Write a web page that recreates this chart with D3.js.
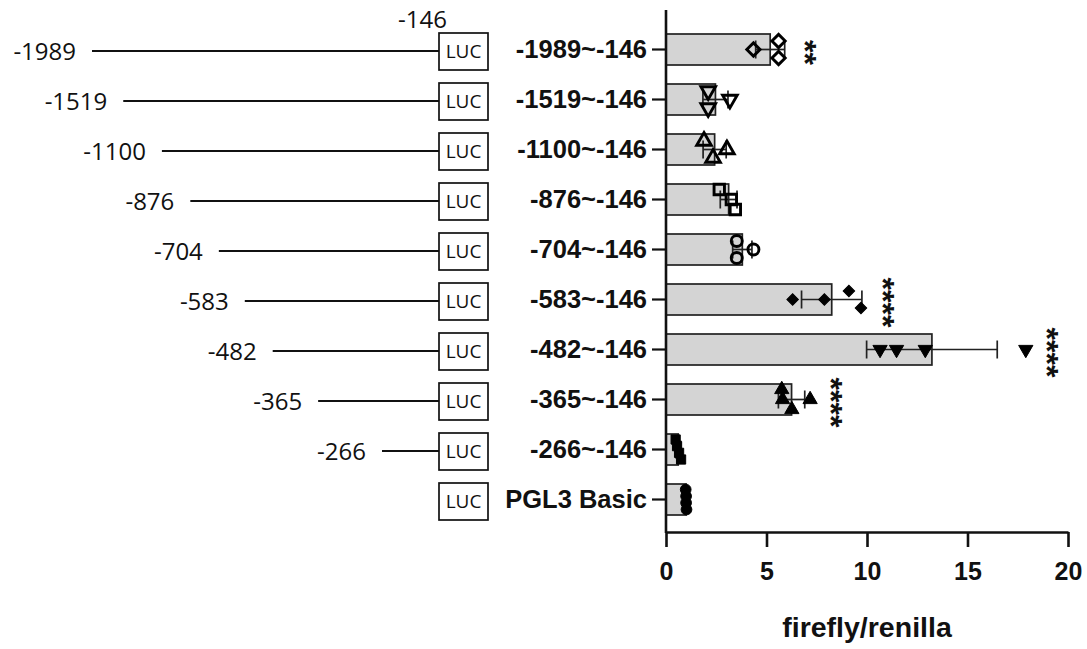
<!DOCTYPE html>
<html>
<head>
<meta charset="utf-8">
<script src="https://cdn.jsdelivr.net/npm/d3@7"></script>
<style>
  body { margin: 0; background: #fff; }
  svg { display: block; }
</style>
</head>
<body>
<div class="chart"></div>
<script>
// constructs, in plot order (top to bottom)
const categories = ["-1989~-146", "-1519~-146", "-1100~-146", "-876~-146", "-704~-146",
                    "-583~-146", "-482~-146", "-365~-146", "-266~-146", "PGL3 Basic"]
const startPositions = [-1989, -1519, -1100, -876, -704, -583, -482, -365, -266, null]
const endPosition = -146

// firefly/renilla replicates
const replicates = [
    [4.35, 5.6, 5.6],
    [2.1, 2.1, 3.18],
    [1.89, 2.34, 3.03],
    [2.65, 3.25, 3.45],
    [3.52, 3.52, 4.35],
    [6.3, 7.88, 9.1, 9.7],
    [10.65, 11.47, 12.9, 17.9],
    [5.76, 5.8, 6.26, 7.17],
    [0.48, 0.55, 0.65, 0.75],
    [0.98, 1.0, 1.0, 1.02]
]
const significance = ["**", "", "", "", "", "****", "****", "****", "", ""]
const xTicks = [0, 5, 10, 15, 20]

const width = 1087, height = 649
const boldFont = "'Liberation Sans', Arial, sans-serif"
const thinFont = "'Open Sans', 'Noto Sans', sans-serif"

// graphpad style markers, one per row
const markers = [
    {type: d3.symbolSquare, size: 88, rot: 45, fill: "none"},
    {type: d3.symbolTriangle, size: 92, rot: 180, fill: "none"},
    {type: d3.symbolTriangle, size: 92, rot: 0, fill: "none"},
    {type: d3.symbolSquare, size: 108, rot: 0, fill: "none"},
    {type: d3.symbolCircle, size: 95, rot: 0, fill: "none"},
    {type: d3.symbolSquare, size: 66, rot: 45, fill: "#000"},
    {type: d3.symbolTriangle, size: 88, rot: 180, fill: "#000"},
    {type: d3.symbolTriangle, size: 88, rot: 0, fill: "#000"},
    {type: d3.symbolSquare, size: 85, rot: 0, fill: "#000"},
    {type: d3.symbolCircle, size: 90, rot: 0, fill: "#000"}
]

var rows = categories.map((c, i) => {
    var vals = replicates[i]
    return {
        cat: c,
        start: startPositions[i],
        vals: vals,
        mean: d3.mean(vals),
        sd: d3.deviation(vals),
        sig: significance[i],
        marker: markers[i]
    }
})

var svg = d3.select(".chart").append("svg")
    .attr("width", width)
    .attr("height", height)

var x = d3.scaleLinear().domain([0, 20]).range([666, 1068])
var y = d3.scaleBand().domain(categories).range([24.5, 524.5])
var bw = y.bandwidth()
var cy = d => y(d) + bw / 2
var axisY = 532

// ---- promoter diagram on the left ----
var lineScale = d3.scaleLog()
    .domain(d3.extent(startPositions.filter(d => d != null), d => endPosition - d).reverse())
    .range([92, 382])
var boxX = 439, boxW = 49, boxH = 37

var diagram = svg.append("g")

diagram.selectAll(".frag")
    .data(rows.filter(d => d.start != null))
    .enter()
    .append("line")
    .attr("x1", d => lineScale(endPosition - d.start))
    .attr("x2", boxX)
    .attr("y1", d => cy(d.cat) + 1.5)
    .attr("y2", d => cy(d.cat) + 1.5)
    .attr("stroke", "#111")
    .attr("stroke-width", 2.2)

diagram.selectAll(".fraglabel")
    .data(rows.filter(d => d.start != null))
    .enter()
    .append("text")
    .attr("x", d => lineScale(endPosition - d.start) - 16)
    .attr("y", d => cy(d.cat) + 1.5)
    .attr("dy", "0.36em")
    .attr("text-anchor", "end")
    .style("font-family", thinFont)
    .style("font-size", "24px")
    .attr("fill", "#111")
    .text(d => d.start)

diagram.selectAll(".luc")
    .data(rows)
    .enter()
    .append("rect")
    .attr("x", boxX)
    .attr("y", d => cy(d.cat) + 2 - boxH / 2)
    .attr("width", boxW)
    .attr("height", boxH)
    .attr("fill", "#fff")
    .attr("stroke", "#111")
    .attr("stroke-width", 1.7)

diagram.selectAll(".luctext")
    .data(rows)
    .enter()
    .append("text")
    .attr("x", boxX + boxW / 2)
    .attr("y", d => cy(d.cat) + 2)
    .attr("dy", "0.36em")
    .attr("text-anchor", "middle")
    .style("font-family", thinFont)
    .style("font-size", "19px")
    .attr("fill", "#111")
    .text("LUC")

diagram.append("text")
    .attr("x", boxX + 8)
    .attr("y", cy(categories[0]) - 22)
    .attr("text-anchor", "end")
    .style("font-family", thinFont)
    .style("font-size", "24px")
    .attr("fill", "#111")
    .text(endPosition)

// ---- bars ----
svg.append("g").selectAll("rect")
    .data(rows)
    .enter()
    .append("rect")
    .attr("x", x(0))
    .attr("y", d => cy(d.cat) - bw * 0.31)
    .attr("width", d => x(d.mean) - x(0))
    .attr("height", bw * 0.62)
    .attr("fill", "#d4d4d4")
    .attr("stroke", "#222")
    .attr("stroke-width", 1.7)

// error bars (SD)
var err = svg.append("g").attr("stroke", "#222").attr("stroke-width", 1.7)
err.selectAll(".whisker")
    .data(rows)
    .enter()
    .append("line")
    .attr("x1", d => x(d.mean - d.sd))
    .attr("x2", d => x(d.mean + d.sd))
    .attr("y1", d => cy(d.cat))
    .attr("y2", d => cy(d.cat))
err.selectAll(".capL")
    .data(rows)
    .enter()
    .append("line")
    .attr("x1", d => x(d.mean - d.sd))
    .attr("x2", d => x(d.mean - d.sd))
    .attr("y1", d => cy(d.cat) - 9)
    .attr("y2", d => cy(d.cat) + 9)
err.selectAll(".capR")
    .data(rows)
    .enter()
    .append("line")
    .attr("x1", d => x(d.mean + d.sd))
    .attr("x2", d => x(d.mean + d.sd))
    .attr("y1", d => cy(d.cat) - 9)
    .attr("y2", d => cy(d.cat) + 9)

// points, overlapping ones spread vertically like prism does
function spread(row) {
    var pts = row.vals.map(v => ({v: v, px: x(v), row: row})).sort((a, b) => a.px - b.px)
    var clusters = []
    pts.forEach(p => {
        var last = clusters[clusters.length - 1]
        if (last && p.px - last[last.length - 1].px < 13) last.push(p)
        else clusters.push([p])
    })
    clusters.forEach(cl => {
        var n = cl.length
        var step = n > 1 ? Math.min(17, 20 / (n - 1)) : 0
        cl.forEach((p, i) => { p.py = cy(row.cat) + (i - (n - 1) / 2) * step })
    })
    return pts
}
var allPts = rows.flatMap(spread)

svg.append("g").selectAll("path")
    .data(allPts)
    .enter()
    .append("path")
    .attr("d", d => d3.symbol().type(d.row.marker.type).size(d.row.marker.size)())
    .attr("transform", d => `translate(${d.px},${d.py}) rotate(${d.row.marker.rot})`)
    .attr("fill", d => d.row.marker.fill)
    .attr("stroke", "#000")
    .attr("stroke-width", d => d.row.marker.fill == "none" ? 2.9 : 1)

// significance stars, written sideways
var starSize = 32
svg.append("g").selectAll("text")
    .data(rows.filter(d => d.sig))
    .enter()
    .append("text")
    .attr("transform", d => {
        var right = Math.max(d3.max(d.vals), d.mean + d.sd)
        return `translate(${x(right) + 28 - starSize * 0.57},${cy(d.cat) + 3}) rotate(90)`
    })
    .attr("text-anchor", "middle")
    .style("font-family", boldFont)
    .style("font-size", starSize + "px")
    .style("font-weight", "bold")
    .attr("fill", "#111")
    .text(d => d.sig)

// ---- axes ----
var xAxis = svg.append("g")
    .attr("transform", `translate(0,${axisY})`)
    .call(d3.axisBottom(x).tickValues(xTicks).tickSize(15).tickSizeOuter(0).tickPadding(15))
xAxis.select(".domain").attr("stroke", "#111").attr("stroke-width", 2.6)
xAxis.selectAll(".tick line").attr("stroke", "#111").attr("stroke-width", 2.6)
xAxis.selectAll(".tick text")
    .style("font-family", boldFont)
    .style("font-size", "25px")
    .style("font-weight", "bold")
    .attr("fill", "#111")

var yAxis = svg.append("g")
    .attr("transform", `translate(${x(0)},0)`)
    .call(d3.axisLeft(y).tickSize(14).tickPadding(5))
yAxis.select(".domain").remove()
yAxis.selectAll(".tick line").attr("stroke", "#111").attr("stroke-width", 2.2)
yAxis.selectAll(".tick text")
    .style("font-family", boldFont)
    .style("font-size", "25.5px")
    .style("font-weight", "bold")
    .attr("fill", "#111")

svg.append("line")
    .attr("x1", x(0)).attr("x2", x(0))
    .attr("y1", 10).attr("y2", axisY + 1)
    .attr("stroke", "#111")
    .attr("stroke-width", 2.6)

svg.append("text")
    .attr("x", (x(0) + x(20)) / 2)
    .attr("y", 637)
    .attr("text-anchor", "middle")
    .style("font-family", boldFont)
    .style("font-size", "28.5px")
    .style("font-weight", "bold")
    .attr("fill", "#111")
    .text("firefly/renilla")
</script>
</body>
</html>
